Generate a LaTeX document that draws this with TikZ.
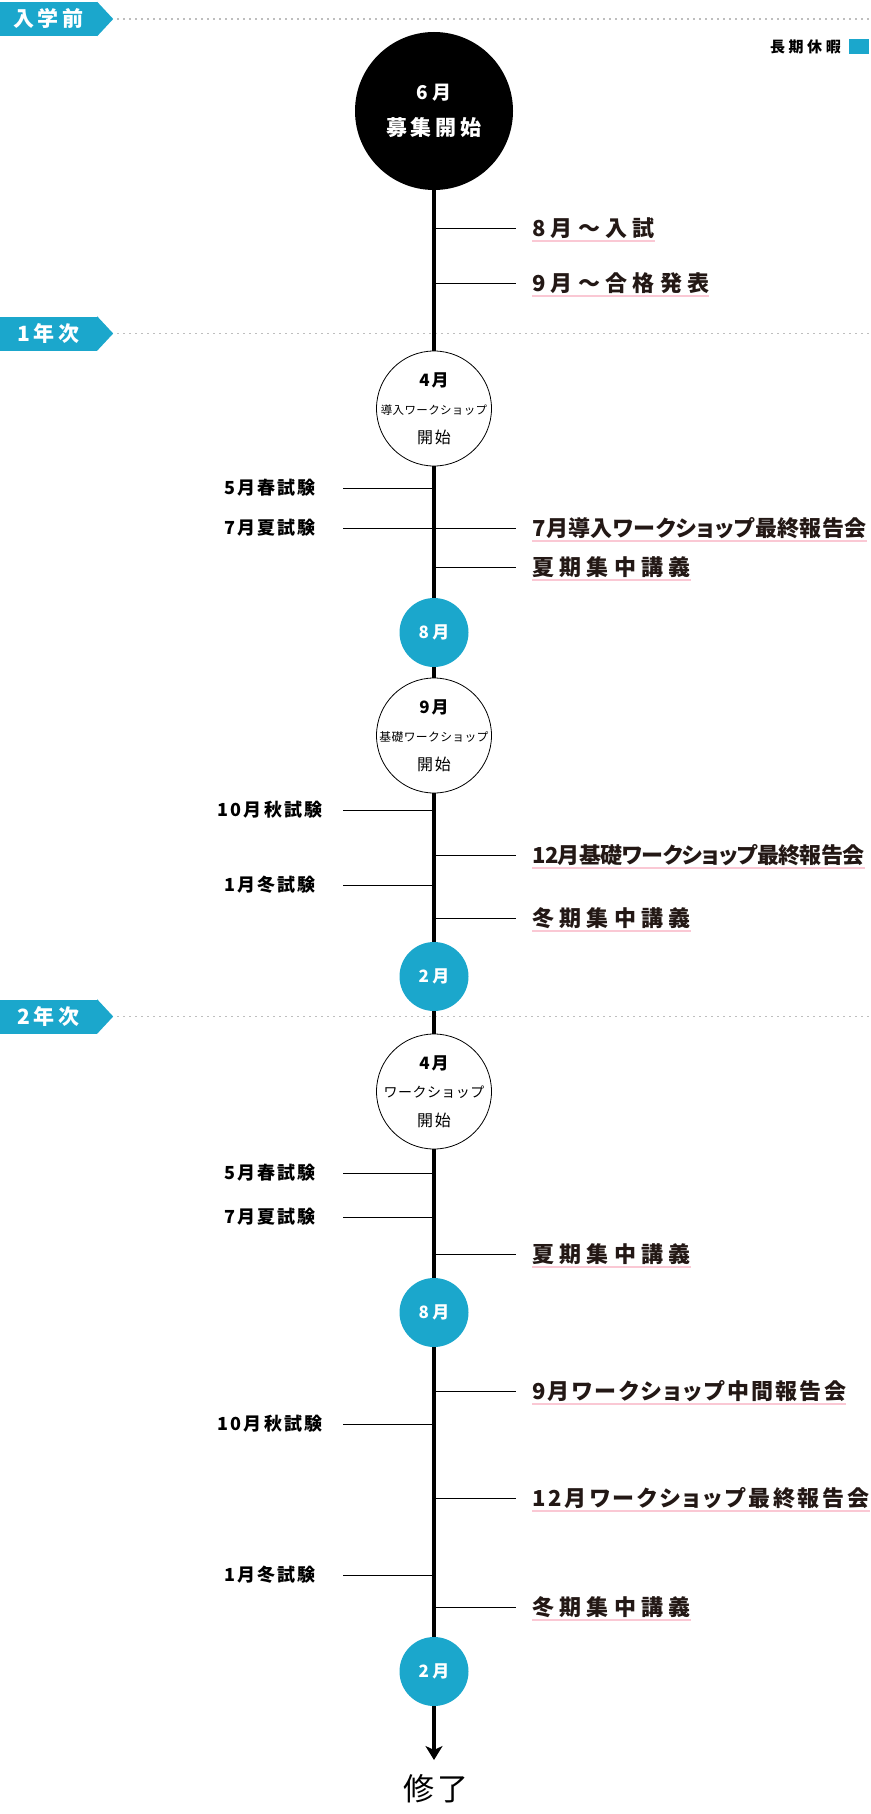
\documentclass[tikz,border=0pt]{standalone}
\usepackage{fontspec}
\usetikzlibrary{arrows.meta,positioning,calc}
\setmainfont{Noto Sans CJK JP}
\newfontfamily\jpR[LetterSpace=24]{Noto Sans CJK JP}
\newfontfamily\jpRa[CharacterWidth=AlternateProportional,LetterSpace=2]{Noto Sans CJK JP}
\newfontfamily\jpRb[CharacterWidth=AlternateProportional,LetterSpace=-2.5]{Noto Sans CJK JP}
\newfontfamily\jpRc[CharacterWidth=AlternateProportional,LetterSpace=10.5]{Noto Sans CJK JP}
\newfontfamily\jpRd[CharacterWidth=AlternateProportional,LetterSpace=13]{Noto Sans CJK JP}
\newfontfamily\jpC[LetterSpace=3]{Noto Sans CJK JP}
\newfontfamily\jpL[LetterSpace=12]{Noto Sans CJK JP}
\newfontfamily\jpT[LetterSpace=19]{Noto Sans CJK JP}
\newcommand{\tlsize}[2]{\fontsize{#1}{#2}\selectfont}
\definecolor{tlBlue}{RGB}{27,167,204}
\definecolor{tlPink}{RGB}{250,200,212}
\definecolor{tlInk}{RGB}{35,24,21}
\definecolor{tlDots}{RGB}{190,190,190}
\tikzset{
  spine/.style={line width=4.3pt, black},
  tick/.style={line width=1pt, black},
  yearline/.style={tlDots, line width=1.6pt, dash pattern=on 1.6pt off 4.4pt},
  yeartag/.style={rectangle, fill=tlBlue, text=white, inner sep=0pt,
    minimum width=97pt, minimum height=34pt, text height=18.5pt, text depth=2.5pt,
    font=\jpT\bfseries\tlsize{21}{21}},
  bigdot/.style={circle, fill=black, text=white, inner sep=0pt, minimum size=158pt,
    align=center, font=\jpT\bfseries\tlsize{19}{36}},
  wsdot/.style={circle, draw=black, line width=0.8pt, fill=white, inner sep=0pt,
    minimum size=115pt, align=center, font=\jpL\tlsize{16}{28.5}},
  holdot/.style={circle, fill=tlBlue, text=white, inner sep=0pt, minimum size=69pt,
    font=\jpT\bfseries\tlsize{17}{17}},
  evR/.style={anchor=west, inner sep=0pt, text=tlInk, text height=19.4pt, text depth=2.6pt,
    font=\jpR\bfseries\tlsize{22}{22}},
  evL/.style={inner sep=0pt, minimum width=146pt, text height=15.8pt, text depth=2.2pt,
    font=\jpL\bfseries\tlsize{18}{18}},
  uline/.style={tlPink, line width=2pt},
}
\begin{document}
\begin{tikzpicture}[x=1pt, y=-1pt]
  \useasboundingbox (0,0) rectangle (870,1814);
  \coordinate (axis) at (434,0);
  \coordinate (edge) at (870,0);
  \coordinate (goalTip) at (434,1760);

  % year tags and dotted rules
  \node[yeartag] (tagPre) at (48.5,19) {入学前};
  \node[yeartag] (tagY1) at (48.5,333.5) {1年次};
  \node[yeartag] (tagY2) at (48.5,1016.5) {2年次};
  \foreach \t in {tagPre,tagY1,tagY2}{
    \fill[tlBlue] (\t.north east) -- ([xshift=16pt]\t.east) -- (\t.south east) -- cycle;
    \draw[yearline] ([xshift=20pt]\t.east) -- (\t.east -| edge);
  }

  % legend
  \node[anchor=east, inner sep=0pt, font=\jpR\bfseries\tlsize{15}{15}] (legLbl) at (841,47) {長期休暇};
  \node[right=8pt of legLbl, fill=tlBlue, inner sep=0pt, minimum width=20pt, minimum height=15pt] (legBox) {};

  % milestones on the spine
  \node[bigdot] (start) at (434,111) {6月\\{\tlsize{21}{36}募集開始}};
  \node[wsdot] (ws1) at (434,408.5) {{\bfseries\tlsize{17}{28.5}4月}\\\makebox[0pt]{\jpC\tlsize{11.5}{28.5}導入ワークショップ}\\開始};
  \node[holdot] (aug1) at (434,632.5) {8月};
  \node[wsdot] (ws2) at (434,735.5) {{\bfseries\tlsize{17}{28.5}9月}\\\makebox[0pt]{\jpC\tlsize{11.8}{28.5}基礎ワークショップ}\\開始};
  \node[holdot] (feb1) at (434,976.5) {2月};
  \node[wsdot] (ws3) at (434,1091.5) {{\bfseries\tlsize{17}{28.5}4月}\\\makebox[0pt]{\jpC\tlsize{14}{28.5}ワークショップ}\\開始};
  \node[holdot] (aug2) at (434,1312.5) {8月};
  \node[holdot] (feb2) at (434,1671.5) {2月};
  \node[font=\jpL\tlsize{31}{31}, inner sep=0pt] (goal) at (436,1789) {修了};

  \draw[spine] (start) -- (ws1);
  \draw[spine] (ws1) -- (aug1);
  \draw[spine] (aug1) -- (ws2);
  \draw[spine] (ws2) -- (feb1);
  \draw[spine] (feb1) -- (ws3);
  \draw[spine] (ws3) -- (aug2);
  \draw[spine] (aug2) -- (feb2);
  \draw[spine, -{Stealth[length=14pt, width=17pt, inset=4pt]}] (feb2) -- (goalTip);

  % exams on the left
  \node[evL] (ex1) at (270,488) {5月春試験};
  \node[evL] (ex2) at (270,528) {7月夏試験};
  \node[evL] (ex3) at (270,810) {10月秋試験};
  \node[evL] (ex4) at (270,885) {1月冬試験};
  \node[evL] (ex5) at (270,1173) {5月春試験};
  \node[evL] (ex6) at (270,1217) {7月夏試験};
  \node[evL] (ex7) at (270,1424) {10月秋試験};
  \node[evL] (ex8) at (270,1575) {1月冬試験};
  \foreach \e in {ex1,ex2,ex3,ex4,ex5,ex6,ex7,ex8}
    \draw[tick] (\e.east) -- (\e.east -| axis);

  % events on the right
  \node[evR] (ev1) at (532,228) {8月～入試};
  \node[evR] (ev2) at (532,283) {9月～合格発表};
  \node[evR, font=\jpRa\bfseries\tlsize{22}{22}] (ev3) at (532,528) {7月導入ワークショップ最終報告会};
  \node[evR] (ev4) at (532,567) {夏期集中講義};
  \node[evR, font=\jpRb\bfseries\tlsize{22}{22}] (ev5) at (532,855) {12月基礎ワークショップ最終報告会};
  \node[evR] (ev6) at (532,918) {冬期集中講義};
  \node[evR] (ev7) at (532,1254) {夏期集中講義};
  \node[evR, font=\jpRc\bfseries\tlsize{22}{22}] (ev8) at (532,1391) {9月ワークショップ中間報告会};
  \node[evR, font=\jpRd\bfseries\tlsize{22}{22}] (ev9) at (532,1498) {12月ワークショップ最終報告会};
  \node[evR] (ev10) at (532,1607) {冬期集中講義};
  \foreach \e in {ev1,ev2,ev3,ev4,ev5,ev6,ev7,ev8,ev9,ev10}{
    \draw[tick, shorten >=16pt] (\e.west -| axis) -- (\e.west);
    \draw[uline] ([yshift=-2pt]\e.south west) -- ([yshift=-2pt]\e.south east);
  }
\end{tikzpicture}
\end{document}
